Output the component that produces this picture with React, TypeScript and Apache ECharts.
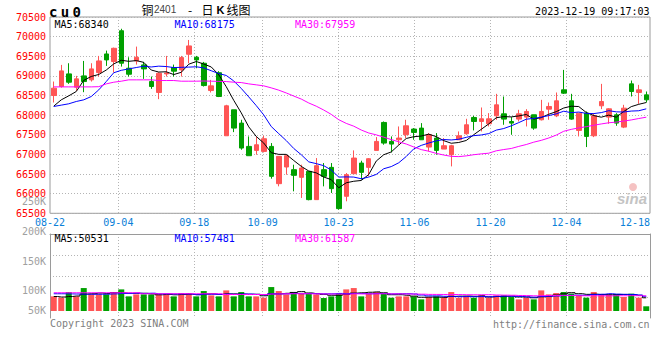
import React, { useEffect, useRef } from 'react';
import * as echarts from 'echarts';

// ---- data ----
const dates = [
  '08-22','08-23','08-24','08-25','08-28','08-29','08-30','08-31',
  '09-01','09-04','09-05','09-06','09-07','09-08','09-11','09-12','09-13','09-14','09-15','09-18','09-19','09-20','09-21','09-22','09-25','09-26','09-27','09-28',
  '10-09','10-10','10-11','10-12','10-13','10-16','10-17','10-18','10-19','10-20','10-23','10-24','10-25','10-26','10-27','10-30','10-31',
  '11-01','11-02','11-03','11-06','11-07','11-08','11-09','11-10','11-13','11-14','11-15','11-16','11-17','11-20','11-21','11-22','11-23','11-24','11-27','11-28','11-29','11-30',
  '12-01','12-04','12-05','12-06','12-07','12-08','12-11','12-12','12-13','12-14','12-15','12-18','12-19',
];

const opens = [
  68500, 68729, 69051, 68712, 69000, 68899, 69085, 69559, 69365, 70150,
  69195, 69381, 69280, 68856, 68577, 69050, 69212, 69153, 69551, 69475,
  69322, 68627, 69080, 67475, 68136, 67797, 67204, 67102, 67077, 67204,
  66255, 66679, 66611, 66416, 66568, 65848, 66611, 66670, 66357, 65933,
  66509, 66780, 66670, 67102, 67814, 67331, 67373, 67501, 67645, 67670,
  67187, 67416, 67136, 66992, 67373, 67526, 67941, 67839, 67780, 67983,
  68034, 67839, 67899, 67950, 68009, 67882, 68153, 67983, 68645, 68365,
  67611, 68051, 67475, 68238, 67950, 68009, 67695, 68797, 68577, 68517,
];
const closes = [
  68687, 69127, 68839, 68924, 68856, 69178, 69381, 69407, 69703, 69322,
  69042, 69475, 69178, 68729, 69068, 69075, 69119, 69466, 69763, 69407,
  68754, 68746, 68475, 68238, 67670, 67162, 66967, 67246, 67399, 66441,
  66950, 66967, 66467, 66653, 65848, 66713, 66441, 66128, 65619, 66484,
  66907, 66543, 66890, 67331, 67289, 67263, 67416, 67729, 67560, 67373,
  67501, 67102, 67221, 67221, 67475, 67755, 67839, 67907, 67907, 68263,
  67899, 67797, 68034, 68094, 67670, 68094, 68221, 68365, 68560, 67899,
  68051, 67458, 67983, 68348, 68161, 67797, 68178, 68602, 68644, 68390,
];
const lows = [
  68322, 68700, 68797, 68619, 68585, 68856, 68983, 69254, 69085, 69237,
  68983, 69288, 68924, 68670, 68407, 68983, 68983, 68983, 69322, 69195,
  68729, 68577, 68460, 67475, 67568, 67119, 66967, 66992, 67050, 66382,
  66187, 66484, 66060, 65891, 65831, 65848, 66187, 66018, 65594, 65806,
  66509, 66357, 66441, 67102, 67247, 67051, 67247, 67416, 67373, 67373,
  67077, 66992, 67136, 66695, 67373, 67500, 67611, 67585, 67712, 67882,
  67755, 67500, 67839, 67712, 67628, 67865, 67882, 67950, 68540, 67882,
  67458, 67187, 67441, 68153, 67780, 67729, 67670, 68475, 68288, 68322,
];
const highs = [
  68856, 69280, 69322, 69000, 69381, 69322, 69509, 69644, 69720, 70200,
  69475, 69746, 69356, 68983, 69093, 69509, 69288, 69509, 69915, 69509,
  69356, 68898, 69120, 68263, 68136, 67882, 67458, 67458, 67475, 67289,
  66950, 66992, 66738, 66738, 66568, 66907, 66780, 66780, 66357, 66526,
  67102, 66839, 66907, 67441, 67839, 67458, 67712, 67882, 67670, 67797,
  67543, 67543, 67416, 67246, 67585, 67907, 67983, 68195, 68051, 68543,
  68475, 67949, 68136, 68153, 68009, 68390, 68322, 68577, 69153, 68543,
  68051, 68094, 68051, 68797, 68178, 68051, 68263, 68882, 68771, 68602,
];
const volumes = [
  58520, 53200, 75810, 58520, 91770, 66500, 66500, 66500, 75810, 86450,
  58520, 66500, 66500, 66500, 66500, 66500, 58520, 71820, 71820, 58520,
  79800, 62510, 58520, 82460, 58520, 75810, 58520, 58520, 53200, 95760,
  79800, 66500, 75810, 69160, 69160, 66500, 51870, 58520, 69160, 86450,
  91770, 58520, 69160, 75810, 69160, 53200, 58520, 58520, 58520, 46550,
  55860, 58520, 53200, 75810, 53200, 58520, 53200, 62510, 53200, 62510,
  62510, 55860, 46550, 53200, 46550, 82460, 66500, 71820, 75800, 69400,
  62600, 53400, 75800, 66600, 66600, 66600, 55900, 69400, 53400, 18800,
];

// moving-average values before the window is full (they use days before 08-22)
const priceMA5Early = [68230, 68390, 68492, 68602];
const priceMA10Early = [68221, 68255, 68289, 68348, 68390, 68475, 68644, 68856, 69080];
const priceMA30Early = [
  68720, 68720, 68720, 68720, 68720, 68720, 68725, 68797, 68839, 68865,
  68899, 68899, 68899, 68899, 68882, 68882, 68882, 68865, 68865, 68865,
  68870, 68865, 68860, 68856, 68839, 68830, 68797, 68772, 68746,
];
const volMA5Early = [58000, 56000, 58000, 60000];
const volMA10Early = [69000, 69000, 68500, 68000, 67500, 67000, 67000, 67500, 68500];
const volMA30Early = [
  73000, 73000, 73000, 73000, 73000, 73000, 73000, 73000, 73000, 73000,
  73000, 73000, 69000, 69000, 69000, 69000, 69000, 69000, 69000, 69000,
  69000, 69000, 69000, 66000, 66000, 66000, 66000, 66000, 66000,
];

const priceMin = 65500;
const priceMax = 70500;
const priceStep = 500;

const labelDates = ['08-22', '09-04', '09-18', '10-09', '10-23', '11-06', '11-20', '12-04', '12-18'];
const lineDates = ['09-04', '09-18', '10-09', '10-23', '11-06', '11-20', '12-04'];
const volTickLabels = ['250K', '200K', '150K', '100K', '50K'];

const mainLegend = [
  { name: 'MA5', value: '68340' },
  { name: 'MA10', value: '68175' },
  { name: 'MA30', value: '67959' },
];
const volLegend = [
  { name: 'MA5', value: '50531' },
  { name: 'MA10', value: '57481' },
  { name: 'MA30', value: '61587' },
];
const symbolText = 'cu0';
const titleParts = ['铜', '2401', '-', '日', 'K', '线图'];
const timeText = '2023-12-19 09:17:03';
const copyrightText = 'Copyright 2023 SINA.COM';
const urlText = 'http://finance.sina.com.cn';

// ---- helpers ----
function movingAvg(vals: number[], n: number, early: number[]): number[] {
  return vals.map((_, i) => {
    if (i < n - 1) return early[i];
    let s = 0;
    for (let k = i - n + 1; k <= i; k++) s += vals[k];
    return Math.round(s / n);
  });
}

const UP = '#ff5555';
const DOWN = '#00a000';
const MA_COLORS = ['#000000', '#0000ff', '#ff00ff'];
const BORDER = '#9a9a9a';
const DOT = '#b4b4b4';
const MONO = '"DejaVu Sans Mono", monospace';

function buildOption() {
  const ohlc = dates.map((_, i) => [opens[i], closes[i], lows[i], highs[i]]);
  const pMA = [
    movingAvg(closes, 5, priceMA5Early),
    movingAvg(closes, 10, priceMA10Early),
    movingAvg(closes, 30, priceMA30Early),
  ];
  const vMA = [
    movingAvg(volumes, 5, volMA5Early),
    movingAvg(volumes, 10, volMA10Early),
    movingAvg(volumes, 30, volMA30Early),
  ];
  const volData = volumes.map((v, i) => ({
    value: v,
    itemStyle: { color: closes[i] >= opens[i] ? UP : DOWN },
  }));

  const dotLine = { show: true, lineStyle: { color: DOT, type: [1, 2] as any, width: 1 } };
  const hiddenCat = {
    type: 'category',
    data: dates,
    position: 'bottom',
    axisLine: { show: false },
    axisTick: { show: false },
    axisLabel: { show: false },
    splitLine: { show: false },
  };

  const txt = (text: string, x: number, y: number, fill: string, font: string, align = 'left') => ({
    type: 'text',
    z: 100,
    style: {
      text, x, y, fill, font,
      textAlign: align, align,
      textVerticalAlign: 'middle', verticalAlign: 'middle',
    },
  });

  const graphics: any[] = [];
  // symbol
  symbolText.split('').forEach((ch, k) => {
    graphics.push(txt(ch, 49 + k * 11.8, 12, '#000', `bold 14px ${MONO}`));
  });
  // title
  const titleX = [141.5, 154, 188, 201.5, 216.5, 226.5];
  titleParts.forEach((p, k) => {
    const isNum = k === 1;
    const font = isNum
      ? '10px "Liberation Sans", sans-serif'
      : k === 4
        ? 'bold 11px "Liberation Sans", sans-serif'
        : '12px "Noto Sans CJK SC", sans-serif';
    graphics.push(txt(p, titleX[k], 9.5, isNum ? '#444' : '#000', font));
  });
  graphics.push(txt(timeText, 649.5, 11, '#000', `10px ${MONO}`, 'right'));
  // legends
  const legX = [54.5, 174.5, 295];
  mainLegend.forEach((l, k) => graphics.push(txt(`${l.name}:${l.value}`, legX[k], 24, MA_COLORS[k], `10px ${MONO}`)));
  volLegend.forEach((l, k) => graphics.push(txt(`${l.name}:${l.value}`, legX[k], 238.5, MA_COLORS[k], `10px ${MONO}`)));
  // volume axis labels
  const volLabelY = [201, 231, 261, 290, 310];
  volTickLabels.forEach((t, k) => graphics.push(txt(t, 46, volLabelY[k], '#a0a0a0', `10px ${MONO}`, 'right')));
  // footer
  graphics.push(txt(copyrightText, 50, 323.5, '#808080', `10px ${MONO}`));
  graphics.push(txt(urlText, 649.5, 324, '#808080', `10px ${MONO}`, 'right'));
  // watermark
  graphics.push({ type: 'circle', z: 1, shape: { cx: 633, cy: 187, r: 4 }, style: { fill: '#f5c2c2' } });
  graphics.push({ ...txt('sina', 632, 198, '#c4c4c4', 'italic bold 15px "Liberation Sans", sans-serif', 'center'), z: 1 });

  return {
    animation: false,
    backgroundColor: '#ffffff',
    grid: [
      { left: 50, width: 600, top: 17, height: 196.3, show: true, borderColor: BORDER, borderWidth: 1 },
      { left: 50, width: 600, top: 234, height: 84, show: false },
    ],
    xAxis: [
      { ...hiddenCat, gridIndex: 0, boundaryGap: true },
      {
        type: 'category',
        gridIndex: 0,
        data: dates,
        position: 'bottom',
        boundaryGap: false,
        axisLine: { show: false },
        axisTick: { show: false },
        axisLabel: {
          show: true,
          interval: (_i: number, v: string) => labelDates.includes(v),
          color: '#0a80d8',
          fontFamily: MONO,
          fontSize: 10,
          margin: 4,
          formatter: (v: string) => (v === labelDates[labelDates.length - 1] ? `{e|${v}}` : v),
          rich: { e: { padding: [0, 15, 0, 0], color: '#0a80d8', fontFamily: MONO, fontSize: 10 } },
        },
        splitLine: { ...dotLine, interval: (_i: number, v: string) => lineDates.includes(v) },
      },
      { ...hiddenCat, gridIndex: 1, boundaryGap: true },
      {
        type: 'category',
        gridIndex: 1,
        data: dates,
        position: 'top',
        boundaryGap: false,
        axisLine: { show: true, onZero: false, lineStyle: { color: BORDER, width: 1 } },
        axisTick: { show: false },
        axisLabel: { show: false },
        splitLine: { ...dotLine, interval: (_i: number, v: string) => lineDates.includes(v) },
      },
    ],
    yAxis: [
      {
        type: 'value',
        gridIndex: 0,
        position: 'left',
        min: priceMin,
        max: priceMax,
        interval: priceStep,
        axisLine: { show: false },
        axisTick: { show: false },
        axisLabel: {
          color: '#ff0000', fontFamily: MONO, fontSize: 10, margin: 4,
          formatter: (v: number) => String(v),
        },
        splitLine: dotLine,
      },
      {
        type: 'value',
        gridIndex: 1,
        position: 'left',
        min: -28000,
        max: 308000,
        interval: 84000,
        axisLine: { show: true, onZero: false, lineStyle: { color: BORDER, width: 1 } },
        axisTick: { show: false },
        axisLabel: { show: false },
        splitLine: { ...dotLine, showMinLine: false, showMaxLine: false },
      },
      {
        type: 'value',
        gridIndex: 1,
        position: 'right',
        min: 0,
        max: 1,
        axisLine: { show: true, onZero: false, lineStyle: { color: BORDER, width: 1 } },
        axisTick: { show: false },
        axisLabel: { show: false },
        splitLine: { show: false },
      },
    ],
    series: [
      {
        type: 'candlestick',
        xAxisIndex: 0,
        yAxisIndex: 0,
        data: ohlc,
        barWidth: 5,
        itemStyle: { color: UP, color0: DOWN, borderColor: UP, borderColor0: DOWN, borderWidth: 1 },
        z: 3,
      },
      ...pMA.map((d, k) => ({
        type: 'line',
        xAxisIndex: 0,
        yAxisIndex: 0,
        data: d,
        symbol: 'none',
        lineStyle: { color: MA_COLORS[k], width: 1 },
        z: 4,
      })),
      {
        type: 'bar',
        xAxisIndex: 2,
        yAxisIndex: 1,
        data: volData,
        barWidth: 6,
        z: 3,
      },
      ...vMA.map((d, k) => ({
        type: 'line',
        xAxisIndex: 2,
        yAxisIndex: 1,
        data: d,
        symbol: 'none',
        step: 'middle',
        lineStyle: { color: MA_COLORS[k], width: 1 },
        z: 4,
      })),
    ],
    graphic: graphics,
  };
}

export default function App() {
  const ref = useRef<HTMLDivElement>(null);
  useEffect(() => {
    document.body.style.margin = '0';
    const chart = echarts.init(ref.current as HTMLDivElement, undefined, { renderer: 'svg' });
    chart.setOption(buildOption() as any);
    return () => chart.dispose();
  }, []);
  return <div ref={ref} style={{ width: 660, height: 360 }} />;
}
